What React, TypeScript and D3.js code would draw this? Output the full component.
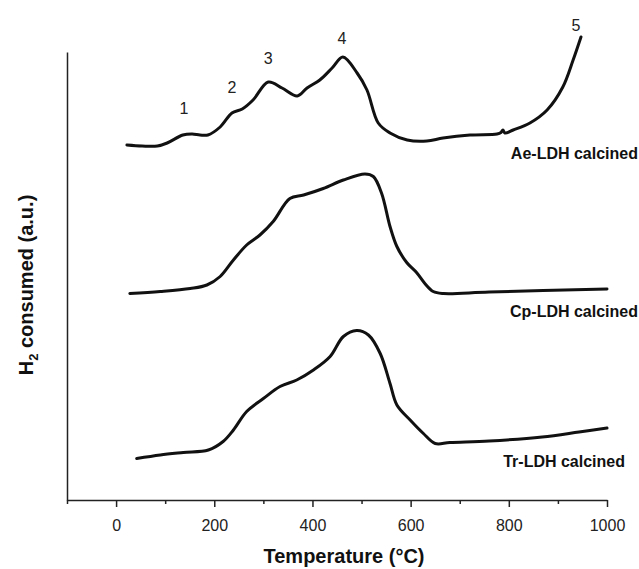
import React, { useEffect, useRef } from 'react';
import * as d3 from 'd3';

// temperature (°C) and H2 consumption (a.u., curves stacked as in the figure)
const aeTemp = [22, 53, 84, 104, 136, 155, 171, 187, 212, 236, 257, 279, 310, 338, 369, 389, 415, 440, 462, 491, 511, 534, 558, 593, 633, 666, 721, 776, 784, 788, 792, 809, 843, 878, 910, 931, 947];
const aeValue = [7.1, 7.08, 7.08, 7.14, 7.3, 7.32, 7.3, 7.3, 7.46, 7.74, 7.82, 8.0, 8.36, 8.24, 8.08, 8.24, 8.4, 8.64, 8.86, 8.54, 8.2, 7.54, 7.34, 7.2, 7.18, 7.24, 7.3, 7.32, 7.35, 7.4, 7.34, 7.4, 7.54, 7.8, 8.26, 8.8, 9.26];

const cpTemp = [28, 90, 151, 185, 212, 239, 266, 293, 320, 354, 382, 422, 463, 507, 524, 541, 558, 572, 592, 612, 629, 646, 667, 760, 1000];
const cpValue = [4.13, 4.17, 4.23, 4.3, 4.47, 4.8, 5.1, 5.3, 5.57, 6.03, 6.1, 6.23, 6.4, 6.52, 6.47, 6.13, 5.47, 5.07, 4.75, 4.55, 4.33, 4.17, 4.13, 4.16, 4.22];

const trTemp = [42, 90, 137, 188, 218, 239, 266, 300, 334, 368, 402, 436, 463, 490, 514, 538, 558, 572, 599, 626, 650, 680, 760, 868, 943, 1000];
const trValue = [0.83, 0.9, 0.95, 1.0, 1.17, 1.4, 1.77, 2.03, 2.27, 2.4, 2.6, 2.87, 3.27, 3.39, 3.3, 2.93, 2.33, 1.9, 1.6, 1.33, 1.13, 1.15, 1.18, 1.26, 1.36, 1.44];

const seriesNames = ['Ae-LDH calcined', 'Cp-LDH calcined', 'Tr-LDH calcined'];

// numbered reduction peaks on the Ae curve
const peakLabels = ['1', '2', '3', '4', '5'];
const peakTemp = [138, 236, 310, 460, 937];
const peakValue = [7.72, 8.14, 8.72, 9.12, 9.38];

const majorTicks = [0, 200, 400, 600, 800, 1000];
const minorTicks = [-100, 100, 300, 500, 700, 900];

const App = () => {
  const ref = useRef<SVGSVGElement>(null);

  useEffect(() => {
    if (!ref.current) return;
    const width = 639;
    const height = 569;
    const font = '"Liberation Sans", Arial, Helvetica, sans-serif';

    const svg = d3.select(ref.current).attr('width', width).attr('height', height);
    svg.selectAll('*').remove();

    const x = d3.scaleLinear().domain([-100, 1000]).range([67, 607]);
    const y = d3.scaleLinear().domain([0, 8.96]).range([500, 52]);

    // x axis with major and minor ticks
    const xAxis = svg.append('g')
      .attr('transform', `translate(0,${y(0)})`)
      .call(d3.axisBottom(x).tickValues(majorTicks).tickFormat(d3.format('d'))
        .tickSize(7).tickSizeOuter(0).tickPadding(13));
    xAxis.select('.domain').attr('stroke', '#222').attr('stroke-width', 1.5);
    xAxis.selectAll('.tick line').attr('stroke', '#222').attr('stroke-width', 1.5);
    xAxis.selectAll('.tick text')
      .attr('font-family', font).attr('font-size', 16).attr('fill', '#222');

    const xMinor = svg.append('g')
      .attr('transform', `translate(0,${y(0)})`)
      .call(d3.axisBottom(x).tickValues(minorTicks).tickSize(4).tickFormat(() => ''));
    xMinor.select('.domain').remove();
    xMinor.selectAll('.tick line').attr('stroke', '#222').attr('stroke-width', 1.5);

    // y axis: plain line, no ticks
    const yAxis = svg.append('g')
      .attr('transform', `translate(${x(-100)},0)`)
      .call(d3.axisLeft(y).ticks(0).tickSizeOuter(0));
    yAxis.select('.domain').attr('stroke', '#222').attr('stroke-width', 1.5);

    const line = d3.line<[number, number]>()
      .x(d => x(d[0]))
      .y(d => y(d[1]))
      .curve(d3.curveCatmullRom.alpha(0.5));

    const curves: [number, number][][] = [
      aeTemp.map((t, i) => [t, aeValue[i]]),
      cpTemp.map((t, i) => [t, cpValue[i]]),
      trTemp.map((t, i) => [t, trValue[i]]),
    ];

    svg.selectAll('path.curve')
      .data(curves)
      .enter().append('path')
      .attr('class', 'curve')
      .attr('d', d => line(d))
      .attr('fill', 'none')
      .attr('stroke', '#111')
      .attr('stroke-width', 3)
      .attr('stroke-linejoin', 'round')
      .attr('stroke-linecap', 'round');

    // series labels at the right
    const labelPos = [[638, 159], [638, 317], [625, 467]];
    svg.selectAll('text.series')
      .data(seriesNames)
      .enter().append('text')
      .attr('class', 'series')
      .attr('x', (d, i) => labelPos[i][0])
      .attr('y', (d, i) => labelPos[i][1])
      .attr('text-anchor', 'end')
      .attr('font-family', font)
      .attr('font-weight', 'bold')
      .attr('font-size', 16)
      .attr('fill', '#111')
      .text(d => d);

    // peak numbers
    svg.selectAll('text.peak')
      .data(peakLabels)
      .enter().append('text')
      .attr('class', 'peak')
      .attr('x', (d, i) => x(peakTemp[i]))
      .attr('y', (d, i) => y(peakValue[i]))
      .attr('text-anchor', 'middle')
      .attr('font-family', font)
      .attr('font-size', 16)
      .attr('fill', '#222')
      .text(d => d);

    // axis titles
    svg.append('text')
      .attr('x', 344)
      .attr('y', 563)
      .attr('text-anchor', 'middle')
      .attr('font-family', font)
      .attr('font-weight', 'bold')
      .attr('font-size', 20)
      .attr('fill', '#111')
      .text('Temperature (°C)');

    const yTitle = svg.append('text')
      .attr('transform', 'translate(33,285) rotate(-90)')
      .attr('text-anchor', 'middle')
      .attr('font-family', font)
      .attr('font-weight', 'bold')
      .attr('font-size', 20)
      .attr('fill', '#111');
    yTitle.append('tspan').text('H');
    yTitle.append('tspan').attr('font-size', 13).attr('dy', 5).text('2');
    yTitle.append('tspan').attr('dy', -5).text(' consumed (a.u.)');
  }, []);

  return (
    <div style={{ position: 'absolute', left: 0, top: 0 }}>
      <svg ref={ref}></svg>
    </div>
  );
};

export default App;
